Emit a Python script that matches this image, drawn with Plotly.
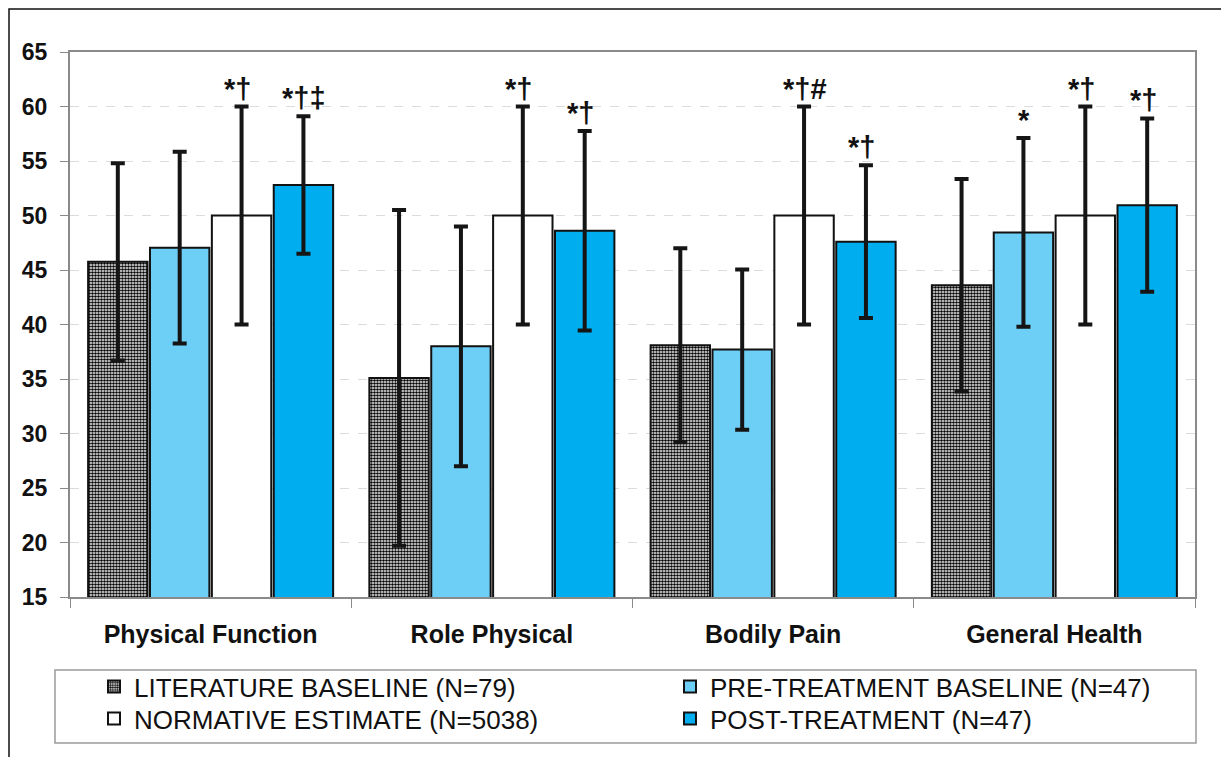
import plotly.graph_objects as go

# ---------------- data ----------------
categories = ["Physical Function", "Role Physical", "Bodily Pain", "General Health"]

series_names = [
    "LITERATURE BASELINE (N=79)",
    "PRE-TREATMENT BASELINE (N=47)",
    "NORMATIVE ESTIMATE (N=5038)",
    "POST-TREATMENT (N=47)",
]

literature_mean = [45.75, 35.1, 38.1, 43.6]
literature_sd = [9.05, 15.4, 8.9, 9.75]

pretreat_mean = [47.05, 38.0, 37.7, 48.45]
pretreat_sd = [8.8, 11.0, 7.35, 8.65]

normative_mean = [50.0, 50.0, 50.0, 50.0]
normative_sd = [10.0, 10.0, 10.0, 10.0]

posttreat_mean = [52.8, 48.6, 47.6, 50.95]
posttreat_sd = [6.3, 9.15, 7.0, 7.95]

literature_sig = ["", "", "", ""]
pretreat_sig = ["", "", "", "*"]
normative_sig = ["*†", "*†", "*†#", "*†"]
posttreat_sig = ["*†‡", "*†", "*†", "*†"]

y_ticks = [15, 20, 25, 30, 35, 40, 45, 50, 55, 60, 65]

# ---------------- layout constants ----------------
W, H = 1229, 757
OFF = 8                      # page body margin offset
PLOT_W, PLOT_H = 1125, 545
ML = 70 - OFF
MT = 52 - OFF
MR = W - ML - PLOT_W
MB = H - MT - PLOT_H
BARGAP = 0.12
BARGROUPGAP = 0.04

def px_to_paper_x(px):
    return (px - OFF - ML) / PLOT_W

def px_to_paper_y(py):
    return (MT + PLOT_H - (py - OFF)) / PLOT_H

def cont_x(px):
    return (px - OFF) / W

def cont_y(py):
    return 1 - (py - OFF) / H

means = [literature_mean, pretreat_mean, normative_mean, posttreat_mean]
sds = [literature_sd, pretreat_sd, normative_sd, posttreat_sd]
sigs = [literature_sig, pretreat_sig, normative_sig, posttreat_sig]
legend_ids = ["legend", "legend2", "legend3", "legend4"]
legend_pos = [(94, 663), (670, 663), (94, 695), (670, 695)]

markers = [
    dict(color="white", line=dict(color="#111111", width=2),
         pattern=dict(shape=".", fgcolor="#000000", bgcolor="#ffffff",
                      size=3, solidity=0.6, fillmode="replace")),
    dict(color="#6DCFF6", line=dict(color="#111111", width=2)),
    dict(color="#FFFFFF", line=dict(color="#111111", width=2)),
    dict(color="#00AEEF", line=dict(color="#111111", width=2)),
]

fig = go.Figure()
for name, m, s, mk, lg in zip(series_names, means, sds, markers, legend_ids):
    fig.add_trace(go.Bar(
        name=name, x=categories, y=m, legend=lg,
        marker=mk,
        error_y=dict(type="data", array=s, visible=True,
                     color="#151515", thickness=4, width=7),
    ))

# significance markers above the error bars
cat_w = PLOT_W / len(categories)
slot = cat_w * (1 - BARGAP) / len(series_names)
annotations = []
for i, (m, s, sg) in enumerate(zip(means, sds, sigs)):
    offset = (i - (len(series_names) - 1) / 2) * slot
    for c, mv, sv, t in zip(categories, m, s, sg):
        if t:
            annotations.append(dict(
                x=c, y=mv + sv, xref="x", yref="y",
                text=t, showarrow=False, xanchor="center", yanchor="bottom",
                xshift=offset + (-4 if len(t) == 2 else 1), yshift=0,
                font=dict(family="Liberation Sans, Arial", size=29, color="#111111",
                          weight="bold"),
            ))

shapes = [
    # legend box
    dict(type="rect", xref="paper", yref="paper",
         x0=px_to_paper_x(55), x1=px_to_paper_x(1196),
         y0=px_to_paper_y(743), y1=px_to_paper_y(670),
         line=dict(color="#9a9a9a", width=1.5), fillcolor="rgba(0,0,0,0)", layer="below"),
    # outer chart frame
    dict(type="rect", xref="paper", yref="paper",
         x0=px_to_paper_x(9), x1=px_to_paper_x(1260),
         y0=px_to_paper_y(790), y1=px_to_paper_y(9),
         line=dict(color="#111111", width=1.5), fillcolor="rgba(0,0,0,0)", layer="below"),
]

legend_font = dict(family="Liberation Sans, Arial", size=26, color="#111111")
legends = {}
for lg, (lx, ly) in zip(legend_ids, legend_pos):
    legends[lg] = dict(
        orientation="h", xref="container", yref="container",
        x=cont_x(lx), y=cont_y(ly), xanchor="left", yanchor="top",
        font=legend_font, bgcolor="rgba(0,0,0,0)", borderwidth=0,
    )

fig.update_layout(
    width=W, height=H,
    margin=dict(l=ML, r=MR, t=MT, b=MB, pad=0, autoexpand=False),
    paper_bgcolor="white", plot_bgcolor="white",
    barmode="group", bargap=BARGAP, bargroupgap=BARGROUPGAP,
    font=dict(family="Liberation Sans, Arial", color="#111111"),
    showlegend=True,
    annotations=annotations,
    shapes=shapes,
    **legends,
)

fig.update_xaxes(
    type="category", showline=True, linecolor="#8a8a8a", linewidth=2, mirror=True,
    ticks="outside", tickson="boundaries", ticklen=9, tickcolor="#8a8a8a", tickwidth=1,
    showgrid=False, ticklabelstandoff=14,
    tickfont=dict(family="Liberation Sans, Arial", size=25, color="#111111", weight="bold"),
)
fig.update_yaxes(
    range=[15, 65], tickvals=y_ticks, ticktext=[str(v) for v in y_ticks],
    showline=True, linecolor="#8a8a8a", linewidth=2, mirror=True,
    ticks="outside", ticklen=8, tickcolor="#8a8a8a", tickwidth=1,
    showgrid=True, gridcolor="#dcdcdc", gridwidth=1, griddash="dash",
    zeroline=False, ticklabelstandoff=8,
    tickfont=dict(family="Liberation Sans, Arial", size=23, color="#111111", weight="bold"),
)

fig.write_html("out.html")
